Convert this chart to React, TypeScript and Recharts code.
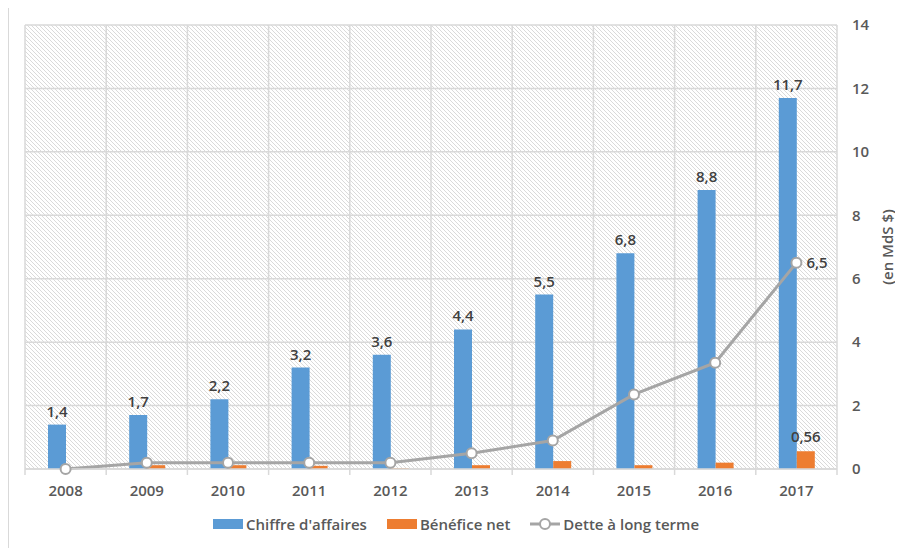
import {
  Bar,
  CartesianGrid,
  ComposedChart,
  Label,
  LabelList,
  Legend,
  Line,
  XAxis,
  YAxis,
} from "recharts";

const years = ["2008", "2009", "2010", "2011", "2012", "2013", "2014", "2015", "2016", "2017"];
const chiffreAffaires = [1.4, 1.7, 2.2, 3.2, 3.6, 4.4, 5.5, 6.8, 8.8, 11.7];
const beneficeNet = [0, 0.12, 0.12, 0.1, 0.02, 0.12, 0.25, 0.12, 0.2, 0.56];
const detteLongTerme = [0, 0.2, 0.2, 0.2, 0.2, 0.5, 0.9, 2.35, 3.35, 6.5];
const yTicks = [0, 2, 4, 6, 8, 10, 12, 14];

const BLUE = "#5b9bd5";
const ORANGE = "#ed7d31";
const GREY = "#a5a5a5";
const TICK = "#595959";
const LABEL = "#404040";
const GRID = "#d9d9d9";

const data = years.map((year, i) => ({
  year,
  ca: chiffreAffaires[i],
  bn: beneficeNet[i],
  dette: detteLongTerme[i],
}));

const fr = (v: any) => String(v).replace(".", ",");
const last = years.length - 1;

function YearTick(props: any) {
  const { x, y, payload, index } = props;
  const w = typeof props.width === "number" && props.width > 100 ? props.width : 812;
  const half = w / years.length / 2;
  return (
    <g>
      <line x1={x - half} x2={x - half} y1={y} y2={y + 6} stroke={GRID} strokeWidth={1.5} />
      {index === last && (
        <line x1={x + half} x2={x + half} y1={y} y2={y + 6} stroke={GRID} strokeWidth={1.5} />
      )}
      <text x={x} y={y + 27} textAnchor="middle" fill={TICK} fontSize={15} fontWeight={600}>
        {payload.value}
      </text>
    </g>
  );
}

function LegendRow() {
  const item = { display: "flex", alignItems: "center", marginRight: 20 } as const;
  const txt = { color: TICK, fontSize: 15, fontWeight: 600, marginLeft: 3 } as const;
  return (
    <div style={{ height: 49, display: "flex", alignItems: "center", justifyContent: "center" }}>
      <div style={item}>
        <span style={{ width: 30, height: 10, background: BLUE, display: "inline-block" }} />
        <span style={txt}>Chiffre d'affaires</span>
      </div>
      <div style={item}>
        <span style={{ width: 30, height: 10, background: ORANGE, display: "inline-block" }} />
        <span style={txt}>Bénéfice net</span>
      </div>
      <div style={{ ...item, marginRight: 0 }}>
        <svg width={30} height={14}>
          <line x1={0} x2={30} y1={7} y2={7} stroke={GREY} strokeWidth={3} />
          <circle cx={15} cy={7} r={5} fill="#fff" stroke={GREY} strokeWidth={2} />
        </svg>
        <span style={txt}>Dette à long terme</span>
      </div>
    </div>
  );
}

export default function App() {
  return (
    <div
      style={{
        marginTop: -2,
        width: 894,
        height: 541,
        borderLeft: "1px solid #d9d9d9",
        borderTop: "1px solid #d9d9d9",
        fontFamily: "'Open Sans', sans-serif",
      }}
    >
      <ComposedChart
        width={894}
        height={541}
        data={data}
        margin={{ top: 18, right: 16, bottom: 0, left: 16 }}
        barGap={0}
      >
        <defs>
          <pattern id="hatch" patternUnits="userSpaceOnUse" width={4} height={4}>
            <rect width={4} height={4} fill="#fff" />
            <path d="M-1,-1 l2,2 M0,0 l4,4 M3,3 l2,2" stroke="#dadada" strokeWidth={1} />
          </pattern>
        </defs>
        <CartesianGrid
          stroke={GRID}
          strokeWidth={1.5}
          fill="url(#hatch)"
          fillOpacity={1}
          verticalCoordinatesGenerator={({ offset }: any) =>
            years
              .map((_, i) => offset.left + (i * offset.width) / years.length)
              .concat(offset.left + offset.width)
          }
        />
        <XAxis
          dataKey="year"
          height={30}
          tickSize={0}
          tickMargin={0}
          tickLine={false}
          axisLine={{ stroke: GRID, strokeWidth: 1.5 }}
          tick={<YearTick />}
          interval={0}
        />
        <YAxis
          orientation="right"
          width={50}
          domain={[0, 14]}
          ticks={yTicks}
          axisLine={false}
          tickLine={false}
          tickMargin={9}
          tick={{ fill: TICK, fontSize: 15, fontWeight: 600 }}
        >
          <Label
            content={({ viewBox }: any) => {
              const cx = viewBox.x + viewBox.width;
              const cy = viewBox.y + viewBox.height / 2;
              return (
                <text
                  x={cx}
                  y={cy}
                  transform={`rotate(-90 ${cx} ${cy})`}
                  textAnchor="middle"
                  dominantBaseline="central"
                  fill={TICK}
                  fontSize={15}
                  fontWeight={600}
                >
                  (en MdS $)
                </text>
              );
            }}
          />
        </YAxis>
        <Legend verticalAlign="bottom" height={49} content={() => <LegendRow />} />
        <Bar dataKey="ca" fill={BLUE} barSize={18} isAnimationActive={false}>
          <LabelList
            dataKey="ca"
            position="top"
            offset={8}
            formatter={fr}
            fill={LABEL}
            fontSize={15}
            fontWeight={600}
          />
        </Bar>
        <Bar dataKey="bn" fill={ORANGE} barSize={18} isAnimationActive={false}>
          <LabelList
            dataKey="bn"
            content={(p: any) =>
              p.index === last || p.value === beneficeNet[last] ? (
                <text
                  x={p.x + p.width / 2}
                  y={p.y - 9}
                  textAnchor="middle"
                  fill={LABEL}
                  fontSize={15}
                  fontWeight={600}
                >
                  {fr(p.value)}
                </text>
              ) : null
            }
          />
        </Bar>
        <Line
          dataKey="dette"
          type="linear"
          stroke={GREY}
          strokeWidth={3}
          dot={{ r: 5, fill: "#fff", stroke: GREY, strokeWidth: 2 }}
          activeDot={false}
          isAnimationActive={false}
        >
          <LabelList
            dataKey="dette"
            content={(p: any) =>
              p.index === last ? (
                <text x={p.x + 10} y={p.y + 5} fill={LABEL} fontSize={15} fontWeight={600}>
                  {fr(p.value)}
                </text>
              ) : null
            }
          />
        </Line>
      </ComposedChart>
    </div>
  );
}
